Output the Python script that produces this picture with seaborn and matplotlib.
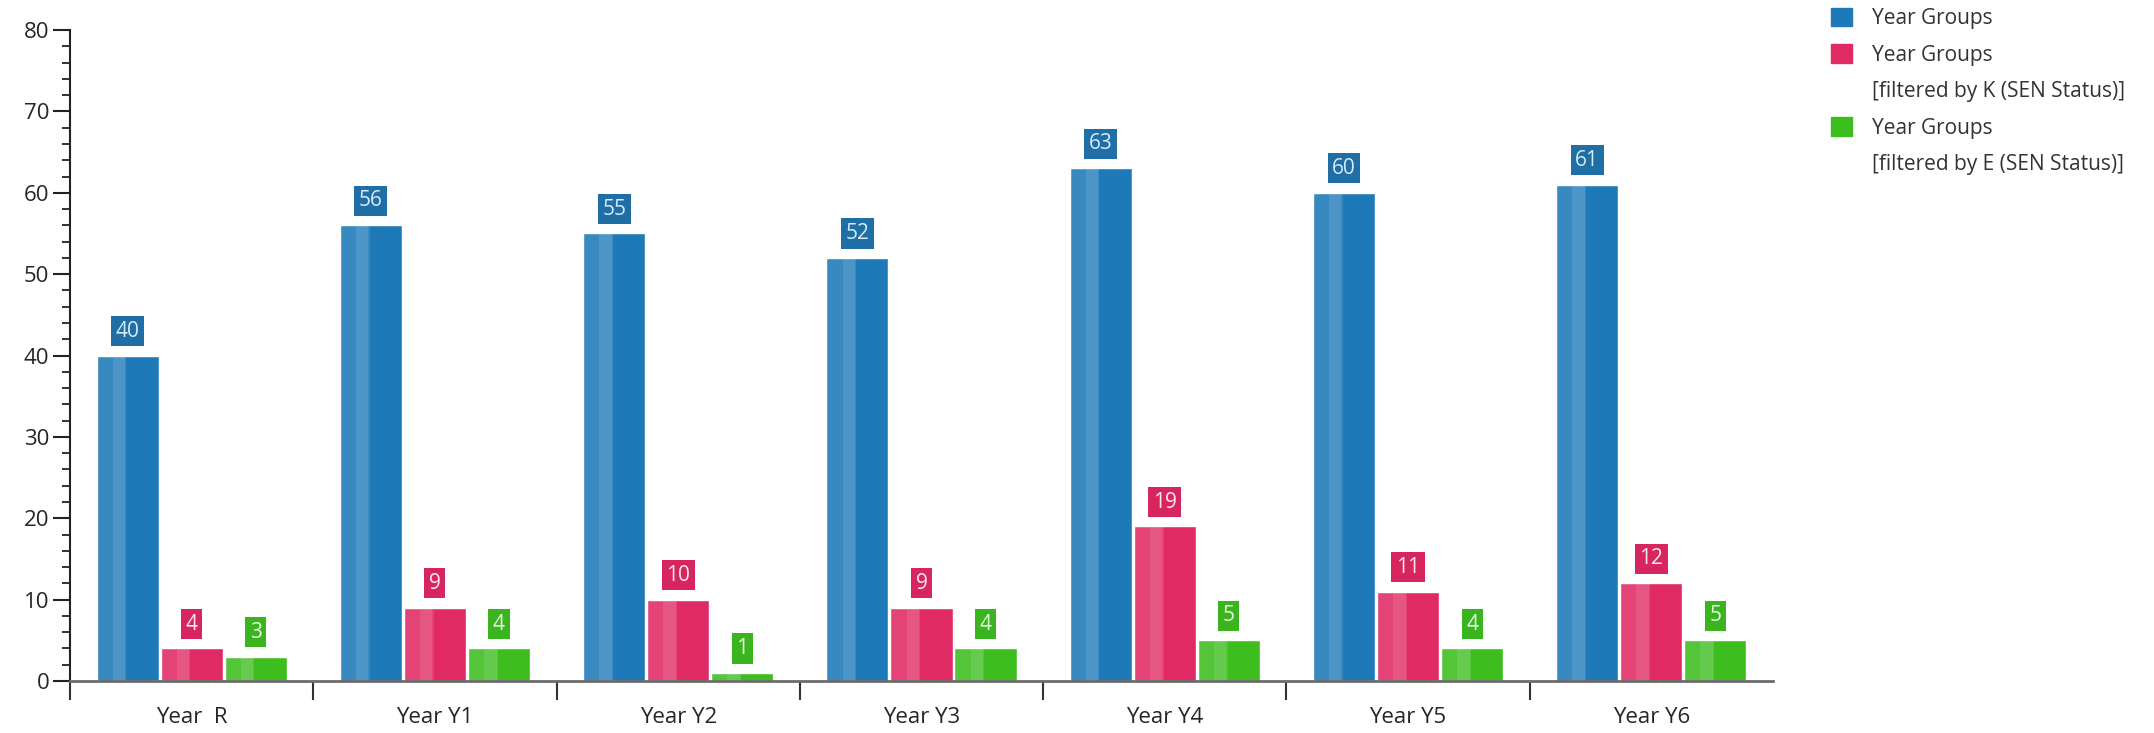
import numpy as np
import pandas as pd
import matplotlib
matplotlib.use('Agg')
import matplotlib.pyplot as plt
import seaborn as sns
from matplotlib.patches import Patch, Rectangle
from matplotlib.ticker import MultipleLocator, FixedLocator

# data
year_groups = ['Year  R', 'Year Y1', 'Year Y2', 'Year Y3', 'Year Y4', 'Year Y5', 'Year Y6']
all_pupils = [40, 56, 55, 52, 63, 60, 61]
sen_k = [4, 9, 10, 9, 19, 11, 12]
sen_e = [3, 4, 1, 4, 5, 4, 5]
series_names = ['Year Groups', 'Filtered K', 'Filtered E']

bar_colors = ['#1d79b8', '#e02a64', '#3dbe1e']
box_colors = ['#1f6ea6', '#d7265f', '#3ab41f']
text_colors = ['#d5ebf8', '#fde6ee', '#e6fbe0']

# long form table for seaborn
df = pd.DataFrame({
    'year': year_groups * 3,
    'count': all_pupils + sen_k + sen_e,
    'series': [s for s in series_names for _ in year_groups],
})

sns.set_style('white')
plt.rcParams['font.family'] = ['Open Sans', 'DejaVu Sans']

fig = plt.figure(figsize=(21.54, 7.33), dpi=100)
ax = fig.add_axes([0.0325, 0.0709, 0.7906, 0.8881])

sns.barplot(data=df, x='year', y='count', hue='series', palette=bar_colors,
            width=0.79, gap=0.03, saturation=1, errorbar=None, legend=False, ax=ax)

# value labels in coloured boxes
for cont, bc, tc in zip(ax.containers, box_colors, text_colors):
    ax.bar_label(cont, padding=10, fontsize=15, color=tc,
                 bbox=dict(boxstyle='square,pad=0.22', fc=bc, ec='none'))

# light sheen on the left half of each bar
bars = list(ax.patches)
for p in bars:
    x, w, h = p.get_x(), p.get_width(), p.get_height()
    ax.add_patch(Rectangle((x, 0), w * 0.48, h, color='white', alpha=0.12, lw=0))
    ax.add_patch(Rectangle((x + w * 0.26, 0), w * 0.2, h, color='white', alpha=0.10, lw=0))

ax.set_xlim(-0.5, 6.5)
ax.set_ylim(0, 80)
ax.set_xlabel('')
ax.set_ylabel('')

sns.despine(ax=ax)
ax.spines['left'].set_color('#222222')
ax.spines['left'].set_linewidth(1.5)
ax.spines['bottom'].set_color('#6b6b6b')
ax.spines['bottom'].set_linewidth(2)

ax.yaxis.set_major_locator(MultipleLocator(10))
ax.yaxis.set_minor_locator(MultipleLocator(2))
ax.tick_params(axis='y', which='major', left=True, length=12, width=1.5, color='#222222',
               labelsize=16, labelcolor='#262626', pad=3)
ax.tick_params(axis='y', which='minor', left=True, length=6, width=1.3, color='#222222')

ax.set_xticks(range(len(year_groups)))
ax.set_xticklabels(year_groups)
ax.xaxis.set_minor_locator(FixedLocator(np.arange(-0.5, 6, 1.0)))
ax.tick_params(axis='x', which='major', length=0, pad=19, labelsize=16, labelcolor='#262626')
ax.tick_params(axis='x', which='minor', bottom=True, length=14, width=1.5, color='#333333')

# legend, second line of a label gets an empty handle
blank = Patch(fc='none', ec='none')
handles = [Patch(color=bar_colors[0]), Patch(color=bar_colors[1]), blank,
           Patch(color=bar_colors[2]), blank]
labels = ['Year Groups', 'Year Groups', '[filtered by K (SEN Status)]',
          'Year Groups', '[filtered by E (SEN Status)]']
leg = fig.legend(handles, labels, loc='upper left', bbox_to_anchor=(0.848, 0.995),
                 frameon=False, fontsize=15, handlelength=1.0, handleheight=1.0,
                 handletextpad=1.0, labelspacing=0.72, borderpad=0.2, borderaxespad=0)
for t in leg.get_texts():
    t.set_color('#333333')

fig.savefig('out.png', dpi=100)
